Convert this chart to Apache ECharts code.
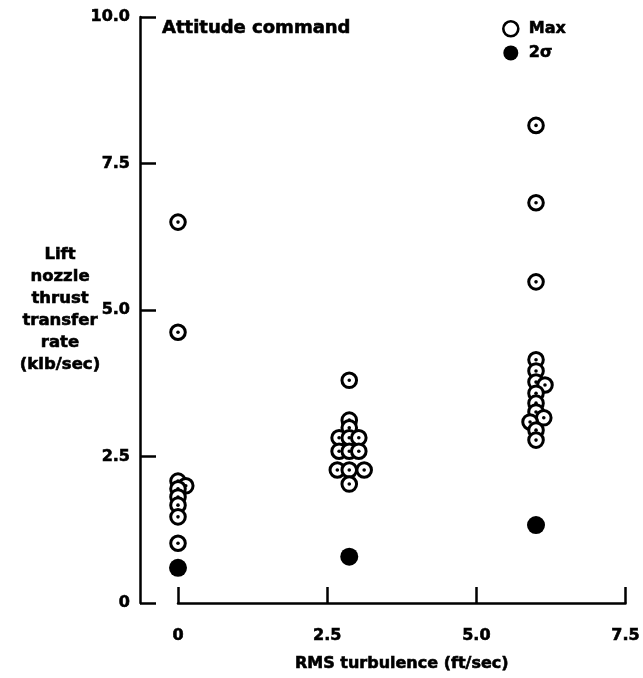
<!DOCTYPE html>
<html>
<head>
<meta charset="utf-8">
<script src="https://cdn.jsdelivr.net/npm/echarts@6/dist/echarts.min.js"></script>
<style>html,body{margin:0;padding:0;background:#fff;}#c{width:643px;height:678px;}</style>
</head>
<body>
<div id="c"></div>
<script>
// Data
const xTicks = [0, 2.5, 5.0, 7.5];
const yTicks = [0, 2.5, 5.0, 7.5, 10.0];
const maxX = [0, 0, 0, 0.13, 0, 0, 0, 0, 0,
              2.87, 2.87, 2.87, 2.70, 2.87, 3.03, 2.70, 2.87, 3.03, 2.67, 2.87, 3.12, 2.87,
              6.0, 6.0, 6.0, 6.0, 6.0, 6.0, 6.15, 6.0, 6.0, 6.0, 6.13, 5.9, 6.0, 6.0];
const maxY = [6.5, 4.62, 2.08, 2.0, 1.95, 1.81, 1.67, 1.47, 1.02,
              3.8, 3.12, 2.99, 2.82, 2.82, 2.82, 2.59, 2.59, 2.59, 2.27, 2.27, 2.27, 2.03,
              8.15, 6.83, 5.48, 4.15, 3.96, 3.77, 3.72, 3.58, 3.41, 3.26, 3.16, 3.09, 2.95, 2.78];
const sigmaX = [0, 2.87, 6.0];
const sigmaY = [0.6, 0.79, 1.33];

const FONT = 'DejaVu Sans';
const txt = (size) => ({ fontFamily: FONT, fontWeight: 'bold', fontSize: size, color: '#000',
  textBorderColor: '#000', textBorderWidth: 0.6 });
const chart = echarts.init(document.getElementById('c'));
const fmt = v => (v === 0 ? '0' : v.toFixed(1));

chart.setOption({
  animation: false,
  backgroundColor: '#fff',
  title: {
    text: 'Attitude command', left: 162, top: 19, padding: 0,
    textStyle: txt(18)
  },
  legend: {
    orient: 'vertical', left: 502, top: 20, padding: 0, itemGap: 7, itemWidth: 15, itemHeight: 15,
    textStyle: txt(16),
    formatter: name => ' ' + name,
    data: [
      { name: 'Max', icon: 'circle', itemStyle: { color: '#fff', borderColor: '#000', borderWidth: 2.6, opacity: 1 } },
      { name: '2σ', icon: 'circle', itemStyle: { color: '#000', borderWidth: 0, opacity: 1 } }
    ]
  },
  grid: [
    { left: 140, right: 15, top: 17, bottom: 75 },
    { left: 178, right: 15, top: 17, bottom: 75 }
  ],
  xAxis: [
    { gridIndex: 0, type: 'value', min: 0, max: 1, show: false },
    {
      gridIndex: 1, type: 'value', min: 0, max: 7.5, interval: 2.5,
      name: 'RMS turbulence (ft/sec)', nameLocation: 'middle', nameGap: 53,
      nameTextStyle: txt(16),
      axisLine: { show: true, lineStyle: { color: '#000', width: 2.5 } },
      axisTick: { show: true, inside: true, length: 16, lineStyle: { color: '#000', width: 2.5 } },
      axisLabel: Object.assign({ margin: 25, formatter: v => (xTicks.indexOf(v) >= 0 ? fmt(v) : '') }, txt(16)),
      splitLine: { show: false }
    }
  ],
  yAxis: [
    {
      gridIndex: 0, type: 'value', min: 0, max: 10, interval: 2.5,
      name: 'Lift\nnozzle\nthrust\ntransfer\nrate\n(klb/sec)', nameLocation: 'middle', nameRotate: 0, nameGap: 80,
      nameMoveOverlap: false,
      nameTextStyle: Object.assign({ align: 'center', verticalAlign: 'middle', lineHeight: 22 }, txt(16.5)),
      axisLine: { show: true, lineStyle: { color: '#000', width: 2.5 } },
      axisTick: { show: true, inside: true, length: 16, lineStyle: { color: '#000', width: 2.5 } },
      axisLabel: Object.assign({ margin: 10, formatter: v => (yTicks.indexOf(v) >= 0 ? fmt(v) : '') }, txt(16)),
      splitLine: { show: false }
    },
    { gridIndex: 1, type: 'value', min: 0, max: 10, show: false }
  ],
  series: [
    {
      name: 'Max', type: 'custom', xAxisIndex: 1, yAxisIndex: 1,
      data: maxX.map((x, i) => [x, maxY[i]]),
      renderItem: function (params, api) {
        const p = api.coord([api.value(0), api.value(1)]);
        return {
          type: 'group',
          children: [
            { type: 'circle', shape: { cx: p[0], cy: p[1], r: 7.3 }, style: { fill: '#fff', stroke: '#000', lineWidth: 3 } },
            { type: 'circle', shape: { cx: p[0], cy: p[1], r: 1.8 }, style: { fill: '#000' } }
          ]
        };
      }
    },
    {
      name: '2σ', type: 'scatter', xAxisIndex: 1, yAxisIndex: 1,
      symbol: 'circle', symbolSize: 18,
      itemStyle: { color: '#000', opacity: 1 },
      data: sigmaX.map((x, i) => [x, sigmaY[i]])
    }
  ]
});
</script>
</body>
</html>
